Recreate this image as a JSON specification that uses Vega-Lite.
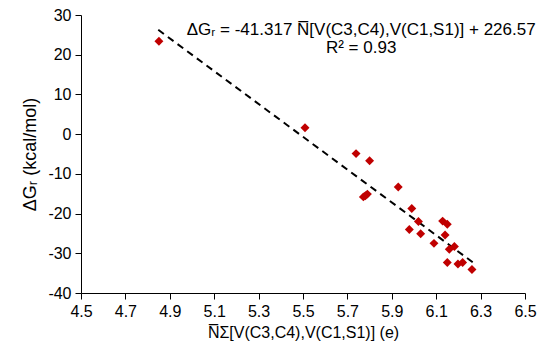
{
  "$schema": "https://vega.github.io/schema/vega-lite/v6.json",
  "width": 444,
  "height": 278,
  "autosize": {"type": "none"},
  "padding": {"left": 81, "top": 15, "right": 25, "bottom": 63},
  "background": "white",
  "config": {
    "view": {"stroke": null},
    "font": "Liberation Sans"
  },
  "datasets": {
    "pts": [
      {"x": 4.851, "y": 23.4},
      {"x": 5.509, "y": 1.6},
      {"x": 5.739, "y": -4.9},
      {"x": 5.800, "y": -6.7},
      {"x": 5.772, "y": -15.8},
      {"x": 5.790, "y": -15.1},
      {"x": 5.781, "y": -15.5},
      {"x": 5.929, "y": -13.3},
      {"x": 5.990, "y": -18.7},
      {"x": 6.020, "y": -22.0},
      {"x": 5.979, "y": -24.0},
      {"x": 6.030, "y": -25.1},
      {"x": 6.129, "y": -21.9},
      {"x": 6.150, "y": -22.7},
      {"x": 6.140, "y": -25.4},
      {"x": 6.090, "y": -27.5},
      {"x": 6.159, "y": -29.0},
      {"x": 6.182, "y": -28.3},
      {"x": 6.150, "y": -32.3},
      {"x": 6.198, "y": -32.7},
      {"x": 6.219, "y": -32.3},
      {"x": 6.261, "y": -34.1}
    ],
    "fit": [
      {"x": 4.848, "y": 26.27},
      {"x": 6.267, "y": -32.36}
    ],
    "labels": [
      {"x": 5.762, "y": 26.2, "t": "ΔGᵣ = -41.317 N̅[V(C3,C4),V(C1,S1)]  + 226.57"},
      {"x": 5.762, "y": 21.6, "t": "R² = 0.93"}
    ]
  },
  "encoding": {
    "x": {"field": "x", "type": "quantitative", "scale": {"domain": [4.5, 6.5], "nice": false, "zero": false},
      "axis": {
        "values": [4.5, 4.7, 4.9, 5.1, 5.3, 5.5, 5.7, 5.9, 6.1, 6.3, 6.5],
        "format": ".1f",
        "grid": false,
        "labelFlush": false,
        "labelOverlap": false,
        "domainColor": "black",
        "tickColor": "black",
        "tickSize": 6,
        "labelFontSize": 16,
        "labelColor": "black",
        "labelPadding": 4,
        "title": "N̅Σ[V(C3,C4),V(C1,S1)] (e)",
        "titleFontSize": 16,
        "titleFontWeight": "normal",
        "titleColor": "black",
        "titlePadding": 5
      }
    },
    "y": {"field": "y", "type": "quantitative", "scale": {"domain": [-40, 30], "nice": false, "zero": false},
      "axis": {
        "values": [-40, -30, -20, -10, 0, 10, 20, 30],
        "labelExpr": "datum.value < 0 ? '-' + abs(datum.value) : '' + datum.value",
        "grid": false,
        "labelFlush": false,
        "labelOverlap": false,
        "domainColor": "black",
        "tickColor": "black",
        "tickSize": 6,
        "labelFontSize": 16,
        "labelColor": "black",
        "labelPadding": 4,
        "title": "ΔGᵣ (kcal/mol)",
        "titleFontSize": 18,
        "titleFontWeight": "normal",
        "titleColor": "black",
        "titlePadding": 8
      }
    }
  },
  "layer": [
    {
      "data": {"name": "fit"},
      "mark": {"type": "line", "color": "black", "strokeWidth": 2, "strokeDash": [7, 5]}
    },
    {
      "data": {"name": "pts"},
      "mark": {"type": "point", "shape": "diamond", "filled": true, "size": 80, "color": "#C00000", "opacity": 1}
    },
    {
      "data": {"name": "labels"},
      "mark": {"type": "text", "fontSize": 17, "color": "black", "align": "center", "baseline": "middle"},
      "encoding": {
        "text": {"field": "t"}
      }
    }
  ]
}
